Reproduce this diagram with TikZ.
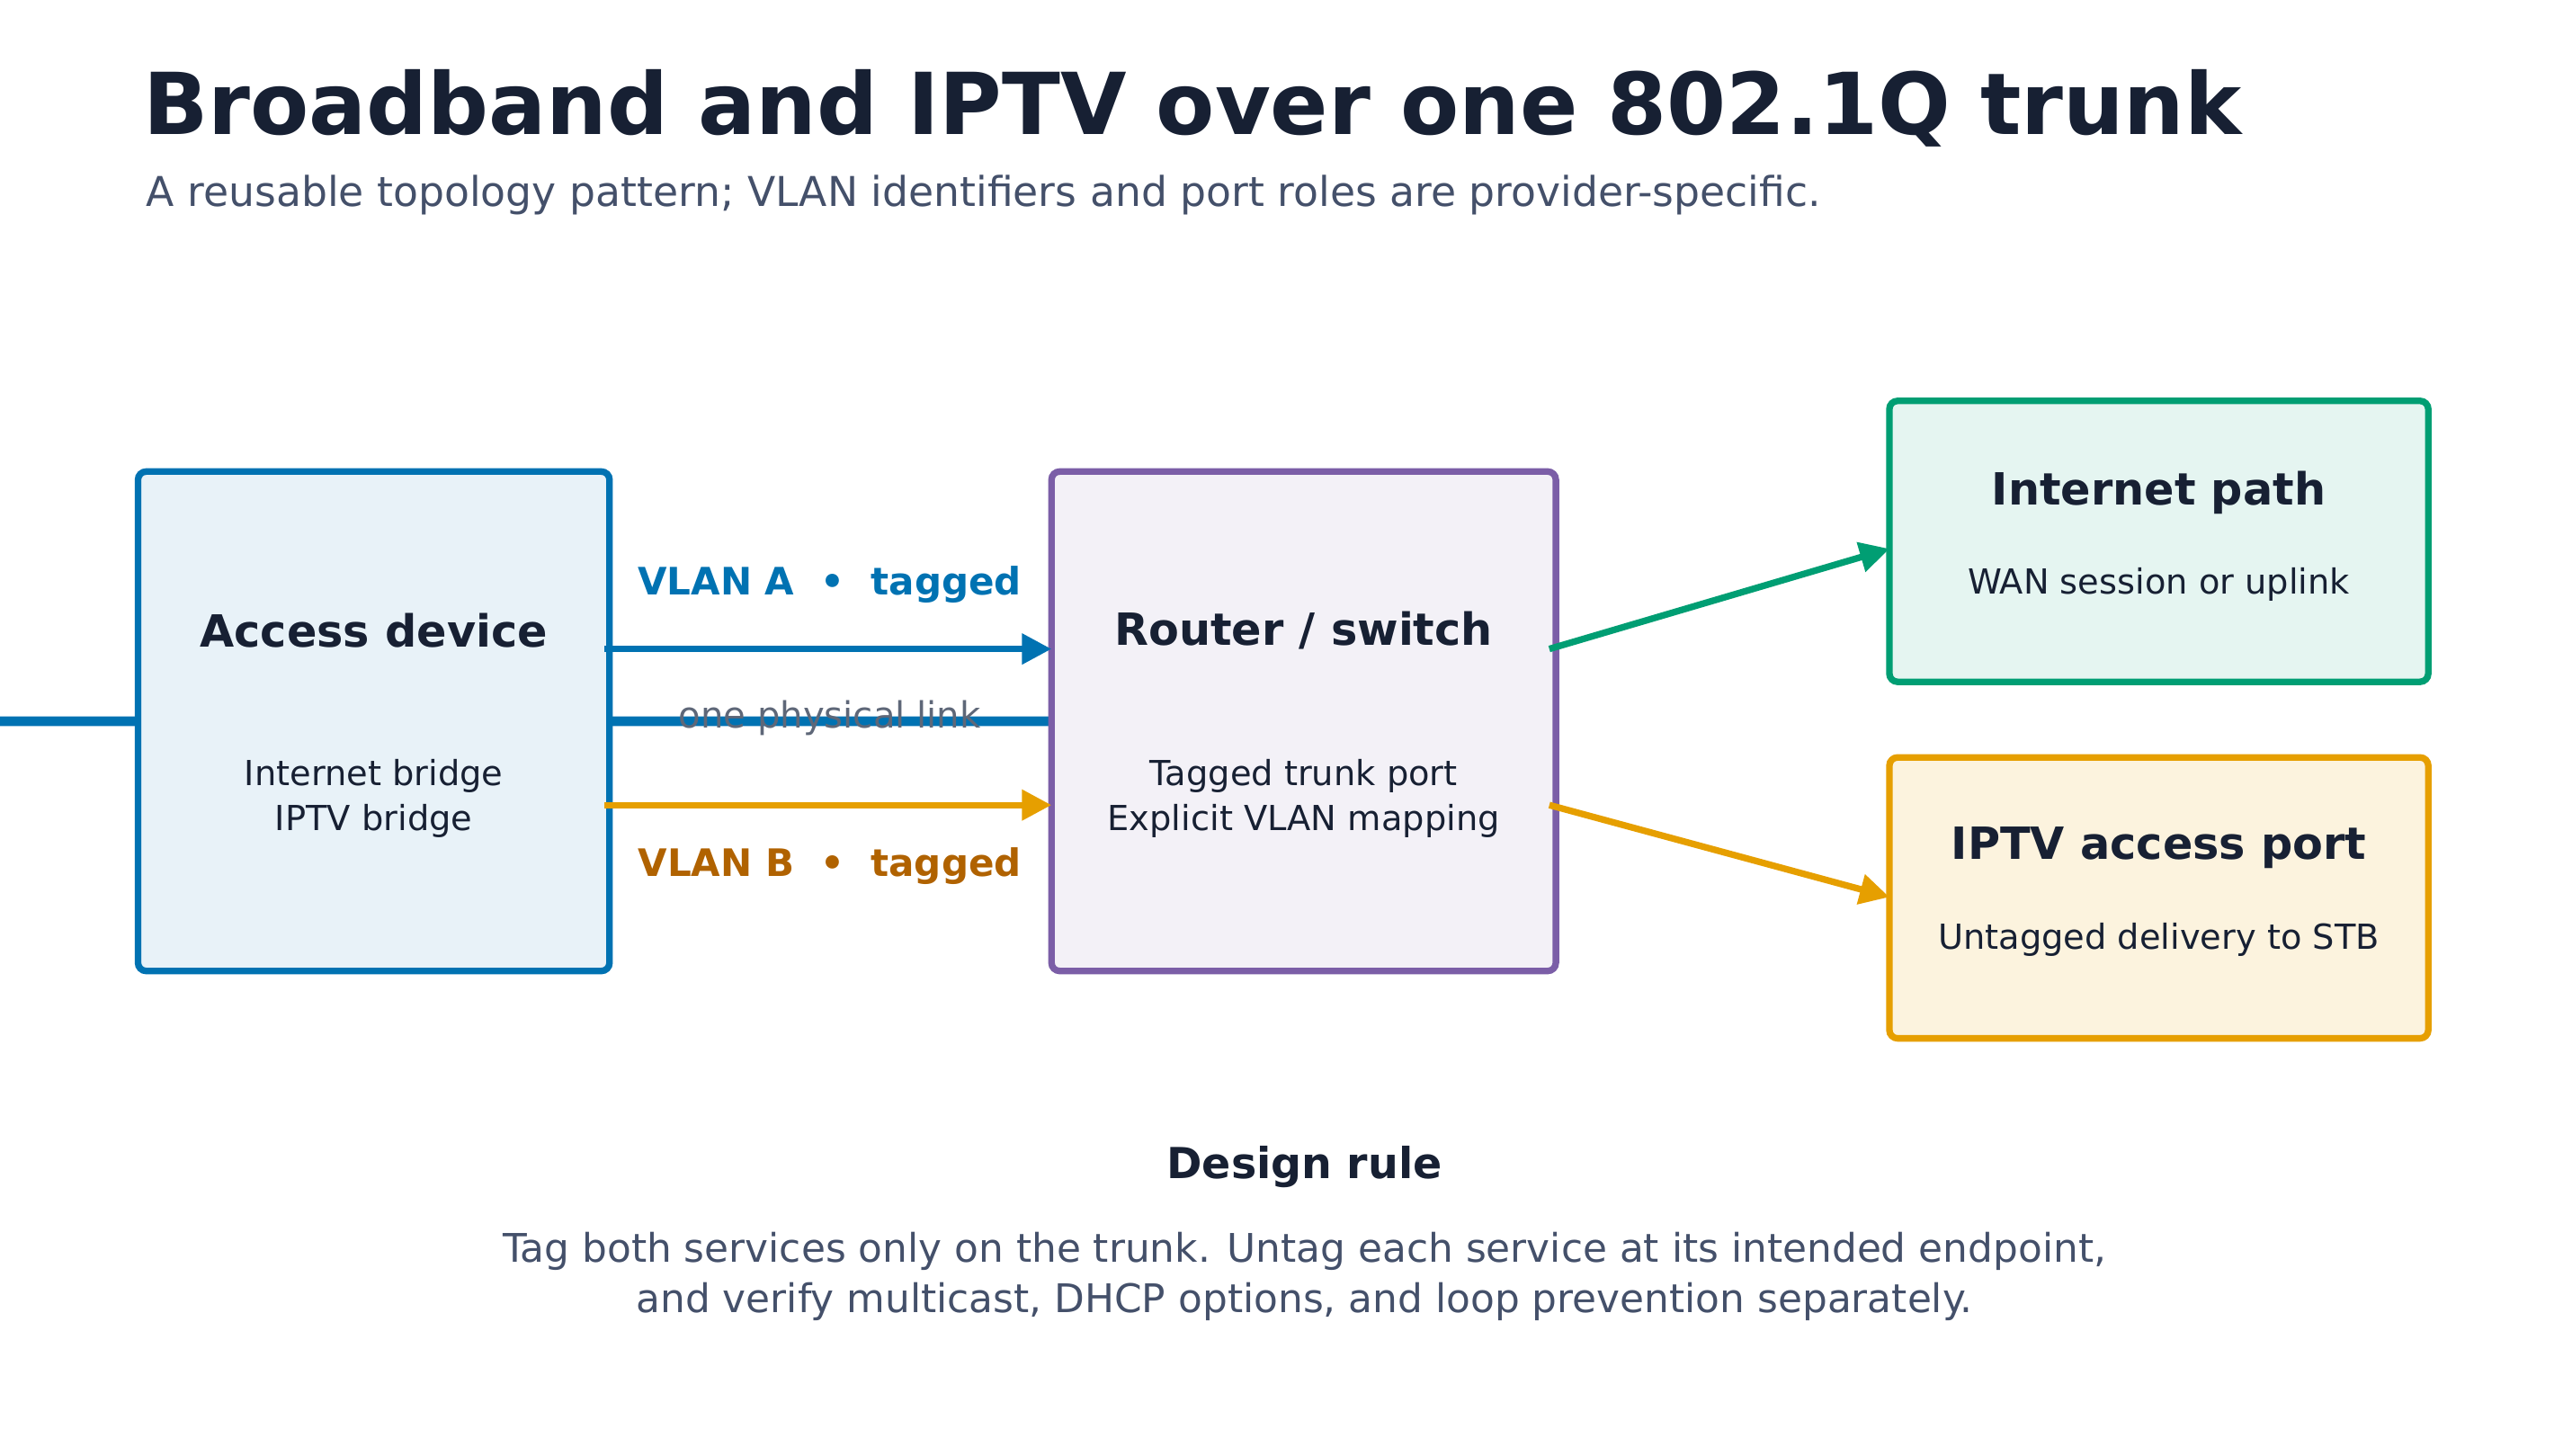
\documentclass[tikz,border=0pt]{standalone}
\usepackage{fontspec}
\setmainfont{DejaVu Sans}
\usetikzlibrary{arrows.meta}
\definecolor{ink}{HTML}{172033}
\definecolor{sub}{HTML}{44506A}
\definecolor{cblue}{HTML}{0072B2}
\definecolor{cpurple}{HTML}{7B5EA7}
\definecolor{cgreen}{HTML}{009E73}
\definecolor{corange}{HTML}{E69F00}
\definecolor{corangetxt}{HTML}{B06200}
\definecolor{gtxt}{HTML}{5E6778}
\tikzset{
 box/.style={draw, line width=2pt, rounded corners=2.5pt},
 conn/.style={line width=2pt, -{Triangle[length=9pt,width=9pt]}, shorten >=0pt},
 ttl/.style={font=\fontsize{13.5}{16}\selectfont\bfseries, text=ink},
 bod/.style={font=\fontsize{10.5}{13.5}\selectfont, text=ink, align=center},
}
\begin{document}
\begin{tikzpicture}[x=0.5pt,y=-0.5pt]
\useasboundingbox (0,0) rectangle (1560,886);
\node[anchor=west, text=ink, font=\fontsize{26}{30}\selectfont\bfseries] (title) at (80,66) {Broadband and IPTV over one 802.1Q trunk};
\node[anchor=west, text=sub, font=\fontsize{12.5}{15}\selectfont] (subt) at (82,119) {A reusable topology pattern; VLAN identifiers and port roles are provider-specific.};

\node[box, draw=cblue, fill=cblue!9, minimum width=287\pgflinewidth, inner sep=0] (acc) at (227.5,439) {};
\path[box, draw=cblue, fill=cblue!9] (84,287) rectangle (371,591);
\node[ttl] (acct) at (227.5,384) {Access device};
\node[bod] (accb) at (227.5,486) {Internet bridge\\IPTV bridge};

\path[box, draw=cpurple, fill=cpurple!9] (640,287) rectangle (947,591);
\node[ttl] (rt) at (793.5,384) {Router / switch};
\node[bod] (rb) at (793.5,486) {Tagged trunk port\\Explicit VLAN mapping};

\path[box, draw=cgreen, fill=cgreen!10] (1150,244) rectangle (1478,415);
\node[ttl] (it) at (1314,300) {Internet path};
\node[bod] (ib) at (1314,356) {WAN session or uplink};

\path[box, draw=corange, fill=corange!13] (1150,461) rectangle (1478,632);
\node[ttl] (pt) at (1314,516) {IPTV access port};
\node[bod] (pb) at (1314,572) {Untagged delivery to STB};

\coordinate (a1) at (368,395); \coordinate (a2) at (640,395);
\coordinate (b1) at (368,490); \coordinate (b2) at (640,490);
\coordinate (g1) at (943,395); \coordinate (g2) at (1150,334);
\coordinate (o1) at (943,490); \coordinate (o2) at (1150,546);
\draw[conn, cblue] (a1) -- (a2);
\draw[conn, corange] (b1) -- (b2);
\draw[conn, cgreen] (g1) -- (g2);
\draw[conn, corange] (o1) -- (o2);

\node[text=cblue, font=\fontsize{11.5}{14}\selectfont\bfseries] (la) at (505,356) {VLAN A\ \ •\ \ tagged};
\node[text=gtxt, font=\fontsize{11}{14}\selectfont] (lp) at (505,437) {one physical link};
\node[text=corangetxt, font=\fontsize{11.5}{14}\selectfont\bfseries] (lb) at (505,527) {VLAN B\ \ •\ \ tagged};

\node[text=ink, font=\fontsize{13}{16}\selectfont\bfseries] (dr) at (794,710) {Design rule};
\node[text=sub, align=center, font=\fontsize{12}{15.5}\selectfont] (dt) at (794,777) {Tag both services only on the trunk. Untag each service at its intended endpoint,\\and verify multicast, DHCP options, and loop prevention separately.};
\end{tikzpicture}
\end{document}
